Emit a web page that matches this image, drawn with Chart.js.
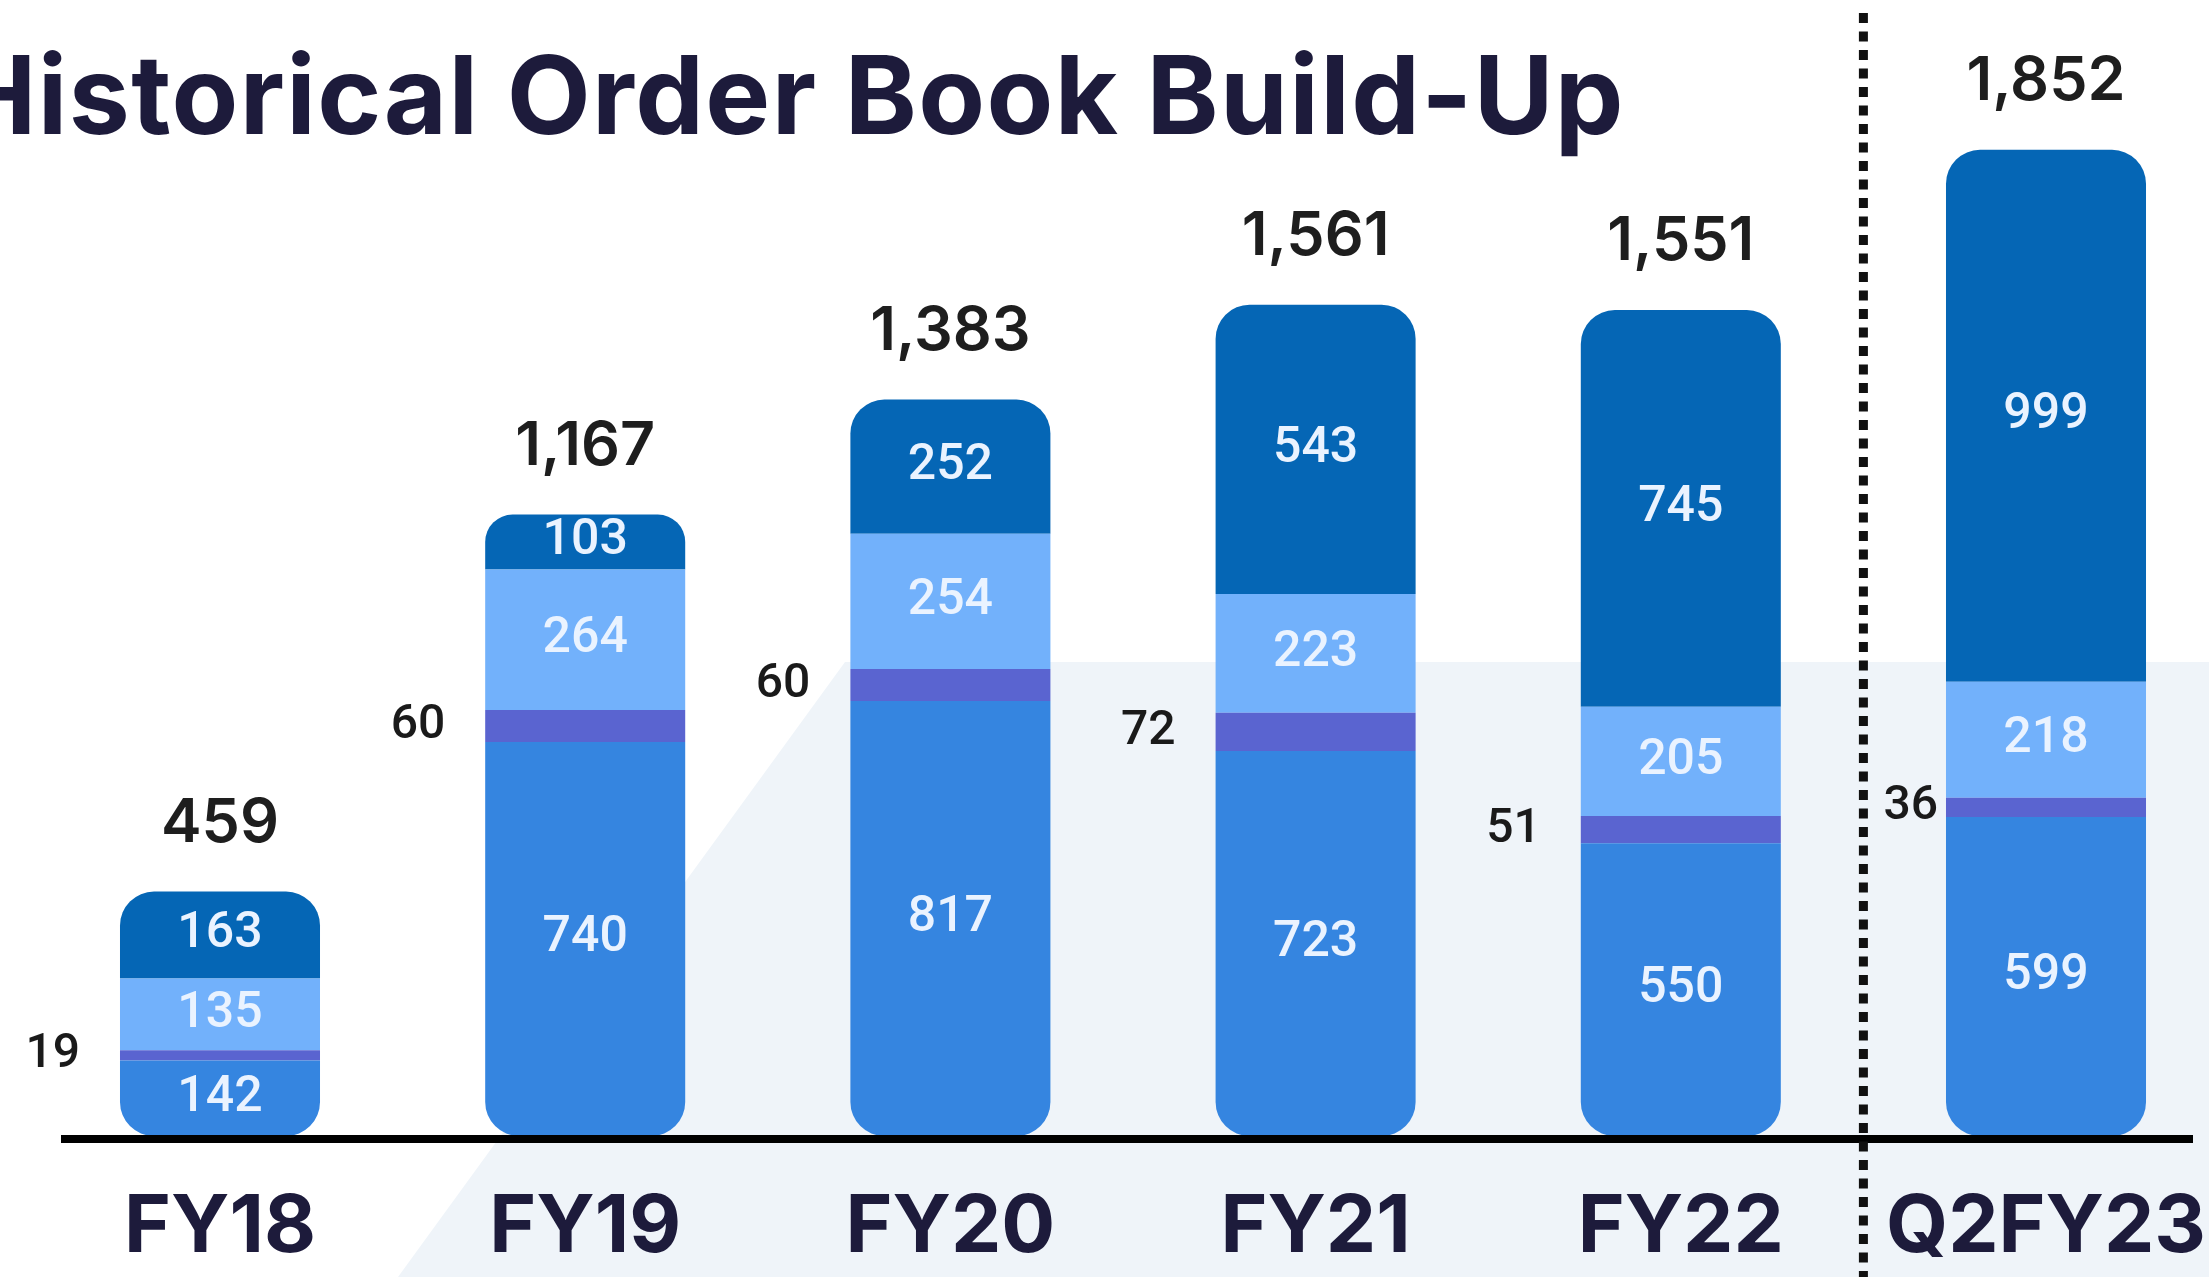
<!DOCTYPE html>
<html lang="en">
<head>
<meta charset="UTF-8">
<title>Historical Order Book Build-Up</title>
<script src="https://cdn.jsdelivr.net/npm/chart.js@4.4.1/dist/chart.umd.min.js"></script>
<style>
  html, body { margin: 0; padding: 0; background: #ffffff; overflow: hidden; }
  .wrap { position: relative; width: 2209px; height: 1277px; }
  .title {
    position: absolute; left: -45px; top: 40px; margin: 0; z-index: 2;
    font-family: Inter, 'Noto Sans', sans-serif; font-weight: 700; font-size: 109px; line-height: 1;
    letter-spacing: 1.4px; color: #1d1b3b; white-space: nowrap;
  }
</style>
</head>
<body>
<div class="wrap">
  <h1 class="title" id="title">Historical Order Book Build-Up</h1>
  <canvas id="orderBookChart"></canvas>
</div>
<script>
  // data
  const categories = ['FY18', 'FY19', 'FY20', 'FY21', 'FY22', 'Q2FY23'];
  const baseValues = [142, 740, 817, 723, 550, 599];
  const thinValues = [19, 60, 60, 72, 51, 36];
  const midValues = [135, 264, 254, 223, 205, 218];
  const topValues = [163, 103, 252, 543, 745, 999];
  const totals = [459, 1167, 1383, 1561, 1551, 1852];

  const colors = { base: '#3585e0', thin: '#5a64d0', mid: '#72b1fb', top: '#0566b5' };

  // light backdrop shape behind the right part of the chart
  const backdropPlugin = {
    id: 'backdrop',
    beforeDraw(chart) {
      const ctx = chart.ctx;
      const w = chart.width, h = chart.height;
      ctx.save();
      ctx.fillStyle = '#eff4f9';
      ctx.beginPath();
      ctx.moveTo(398, h);
      ctx.lineTo(845, 662);
      ctx.lineTo(w, 662);
      ctx.lineTo(w, h);
      ctx.closePath();
      ctx.fill();
      ctx.restore();
    }
  };

  // baseline + dotted separator before the latest quarter
  const linesPlugin = {
    id: 'axisLines',
    afterDatasetsDraw(chart) {
      const ctx = chart.ctx;
      const xScale = chart.scales.x;
      const y0 = chart.scales.y.getPixelForValue(0);
      ctx.save();
      ctx.strokeStyle = '#000000';
      ctx.lineWidth = 8;
      ctx.beginPath();
      ctx.moveTo(61, y0 + 3);
      ctx.lineTo(2193, y0 + 3);
      ctx.stroke();

      const sepX = (xScale.getPixelForValue(4) + xScale.getPixelForValue(5)) / 2;
      ctx.strokeStyle = '#111111';
      ctx.setLineDash([10, 8.5]);
      ctx.lineWidth = 9;
      ctx.beginPath();
      ctx.moveTo(sepX, 13);
      ctx.lineTo(sepX, chart.height);
      ctx.stroke();
      ctx.restore();
    }
  };

  // values inside the segments, thin segment value on the left, totals on top
  const labelsPlugin = {
    id: 'barLabels',
    afterDatasetsDraw(chart) {
      const ctx = chart.ctx;
      ctx.save();
      ctx.textBaseline = 'middle';
      chart.data.datasets.forEach((ds, di) => {
        const meta = chart.getDatasetMeta(di);
        meta.data.forEach((bar, i) => {
          const value = ds.data[i];
          const midY = (bar.y + bar.base) / 2;
          if (di === 1) {
            const gap = i === categories.length - 1 ? 8 : 40;
            ctx.font = '500 48px Roboto';
            ctx.fillStyle = '#1a1a1a';
            ctx.textAlign = 'right';
            ctx.fillText(value, bar.x - bar.width / 2 - gap, midY);
          } else {
            ctx.font = '500 50px Roboto';
            ctx.fillStyle = '#eaf3ff';
            ctx.textAlign = 'center';
            ctx.fillText(value, bar.x, midY);
          }
        });
      });

      const topMeta = chart.getDatasetMeta(3);
      ctx.font = '600 61px Inter';
      ctx.fillStyle = '#1e1e1e';
      ctx.textAlign = 'center';
      topMeta.data.forEach((bar, i) => {
        ctx.fillText(totals[i].toLocaleString('en-US'), bar.x, bar.y - 68);
      });
      ctx.restore();
    }
  };

  const topRadius = { topLeft: 34, topRight: 34, bottomLeft: 0, bottomRight: 0 };
  const bottomRadius = { topLeft: 0, topRight: 0, bottomLeft: 34, bottomRight: 34 };

  new Chart(document.getElementById('orderBookChart'), {
    type: 'bar',
    data: {
      labels: categories,
      datasets: [
        { label: 'Segment 1', data: baseValues, backgroundColor: colors.base, borderRadius: bottomRadius, borderSkipped: false, clip: false },
        { label: 'Segment 2', data: thinValues, backgroundColor: colors.thin, borderRadius: 0, clip: false },
        { label: 'Segment 3', data: midValues, backgroundColor: colors.mid, borderRadius: 0, clip: false },
        { label: 'Segment 4', data: topValues, backgroundColor: colors.top, borderRadius: topRadius, borderSkipped: false, clip: false }
      ]
    },
    options: {
      responsive: true,
      maintainAspectRatio: false,
      animation: false,
      layout: { padding: { top: 71, left: 220, right: 163, bottom: 0 } },
      datasets: { bar: { categoryPercentage: 0.5477, barPercentage: 1, borderWidth: 0 } },
      plugins: {
        legend: { display: false },
        tooltip: { enabled: false },
        title: { display: false }
      },
      scales: {
        x: {
          stacked: true,
          offset: false,
          grid: { display: false, drawTicks: false },
          border: { display: false },
          ticks: {
            font: { family: 'Inter', weight: '700', size: 80 },
            color: '#1d1b3b',
            padding: 44,
            maxRotation: 0,
            autoSkip: false
          },
          afterFit(scale) {
            scale.height = 141;
            scale.paddingLeft = 0;
            scale.paddingRight = 0;
          }
        },
        y: { stacked: true, display: false, min: 0, max: 2000 }
      }
    },
    plugins: [backdropPlugin, linesPlugin, labelsPlugin]
  });
</script>
</body>
</html>
